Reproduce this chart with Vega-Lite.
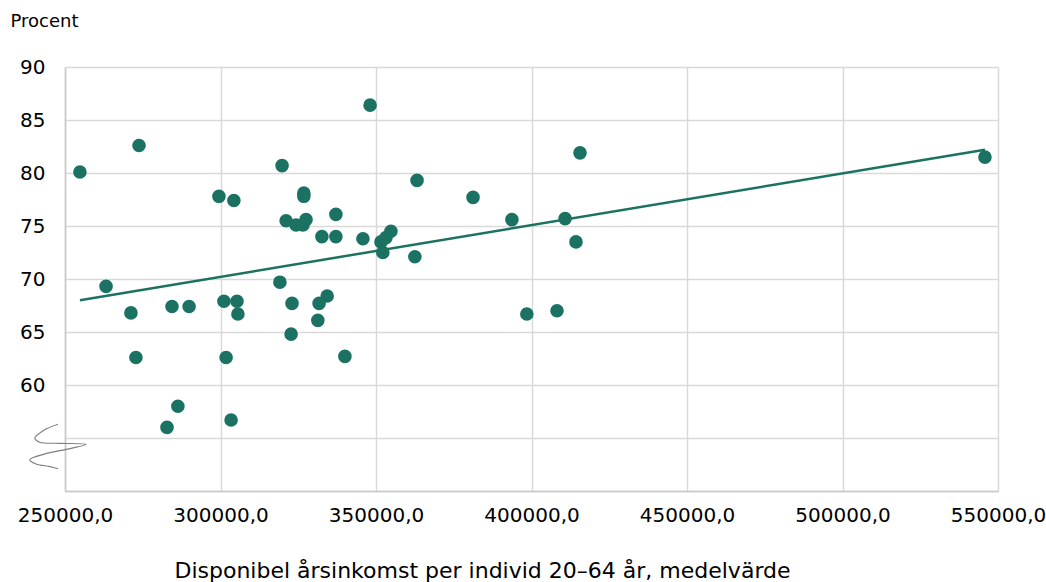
{
  "$schema": "https://vega.github.io/schema/vega-lite/v6.json",
  "width": 933,
  "height": 424,
  "autosize": "none",
  "padding": {"left": 65, "top": 67, "right": 48, "bottom": 91},
  "background": "white",
  "config": {
    "view": {"stroke": null},
    "font": "DejaVu Sans"
  },
  "datasets": {
    "points": [
      {"inkomst": 254800, "andel": 80.1},
      {"inkomst": 263200, "andel": 69.3},
      {"inkomst": 271200, "andel": 66.8},
      {"inkomst": 272800, "andel": 62.6},
      {"inkomst": 273800, "andel": 82.6},
      {"inkomst": 282800, "andel": 56.0},
      {"inkomst": 284400, "andel": 67.4},
      {"inkomst": 286300, "andel": 58.0},
      {"inkomst": 289900, "andel": 67.4},
      {"inkomst": 299500, "andel": 77.8},
      {"inkomst": 301100, "andel": 67.9},
      {"inkomst": 301800, "andel": 62.6},
      {"inkomst": 303400, "andel": 56.7},
      {"inkomst": 304300, "andel": 77.4},
      {"inkomst": 305300, "andel": 67.9},
      {"inkomst": 305600, "andel": 66.7},
      {"inkomst": 319100, "andel": 69.7},
      {"inkomst": 319800, "andel": 80.7},
      {"inkomst": 321100, "andel": 75.5},
      {"inkomst": 322700, "andel": 64.8},
      {"inkomst": 323000, "andel": 67.7},
      {"inkomst": 324300, "andel": 75.1},
      {"inkomst": 326500, "andel": 75.1},
      {"inkomst": 326800, "andel": 78.1},
      {"inkomst": 326800, "andel": 77.8},
      {"inkomst": 327500, "andel": 75.6},
      {"inkomst": 331300, "andel": 66.1},
      {"inkomst": 331700, "andel": 67.7},
      {"inkomst": 332600, "andel": 74.0},
      {"inkomst": 334300, "andel": 68.4},
      {"inkomst": 337100, "andel": 76.1},
      {"inkomst": 337100, "andel": 74.0},
      {"inkomst": 340000, "andel": 62.7},
      {"inkomst": 345800, "andel": 73.8},
      {"inkomst": 348100, "andel": 86.4},
      {"inkomst": 351600, "andel": 73.5},
      {"inkomst": 352200, "andel": 72.5},
      {"inkomst": 353200, "andel": 73.9},
      {"inkomst": 354800, "andel": 74.5},
      {"inkomst": 362500, "andel": 72.1},
      {"inkomst": 363200, "andel": 79.3},
      {"inkomst": 381200, "andel": 77.7},
      {"inkomst": 393700, "andel": 75.6},
      {"inkomst": 398500, "andel": 66.7},
      {"inkomst": 408200, "andel": 67.0},
      {"inkomst": 410800, "andel": 75.7},
      {"inkomst": 414300, "andel": 73.5},
      {"inkomst": 415600, "andel": 81.9},
      {"inkomst": 545800, "andel": 81.5}
    ],
    "trend": [
      {"inkomst": 254800, "andel": 68.0},
      {"inkomst": 545800, "andel": 82.2}
    ],
    "brytning": [
      {"ordning": 1, "inkomst": 247750, "andel": 56.3},
      {"ordning": 2, "inkomst": 243300, "andel": 55.75},
      {"ordning": 3, "inkomst": 240300, "andel": 55.0},
      {"ordning": 4, "inkomst": 241900, "andel": 54.6},
      {"ordning": 5, "inkomst": 248400, "andel": 54.5},
      {"ordning": 6, "inkomst": 256800, "andel": 54.4},
      {"ordning": 7, "inkomst": 251600, "andel": 54.0},
      {"ordning": 8, "inkomst": 243600, "andel": 53.5},
      {"ordning": 9, "inkomst": 238700, "andel": 52.95},
      {"ordning": 10, "inkomst": 240700, "andel": 52.55},
      {"ordning": 11, "inkomst": 245200, "andel": 52.3},
      {"ordning": 12, "inkomst": 247750, "andel": 52.1}
    ]
  },
  "layer": [
    {
      "data": {"name": "points"},
      "mark": {"type": "point", "filled": true, "size": 185, "opacity": 1, "color": "#1b7262", "shape": "circle"},
      "encoding": {
        "x": {
          "field": "inkomst", "type": "quantitative",
          "scale": {"domain": [250000, 550000], "nice": false, "zero": false},
          "axis": {
            "values": [250000, 300000, 350000, 400000, 450000, 500000, 550000],
            "labelExpr": "replace(format(datum.value, '.1f'), '.', ',')",
            "labelFontSize": 20,
            "labelColor": "#000000",
            "labelPadding": 14,
            "labelFlush": false,
            "labelOverlap": false,
            "ticks": false,
            "domainColor": "#c8c8c8",
            "domainWidth": 1.5,
            "grid": true,
            "gridColor": "#d9d9d9",
            "gridWidth": 1.5,
            "title": "Disponibel årsinkomst per individ 20–64 år, medelvärde",
            "titleFontSize": 22,
            "titleFontWeight": "normal",
            "titleColor": "#000000",
            "titleAnchor": "middle",
            "titleX": 417,
            "titleY": 86,
            "titleBaseline": "alphabetic"
          }
        },
        "y": {
          "field": "andel", "type": "quantitative",
          "scale": {"domain": [50, 90], "nice": false, "zero": false},
          "axis": {
            "values": [50, 55, 60, 65, 70, 75, 80, 85, 90],
            "labelExpr": "datum.value < 60 ? '' : datum.label",
            "labelFontSize": 20,
            "labelColor": "#000000",
            "labelPadding": 20,
            "labelFlush": false,
            "ticks": false,
            "domainColor": "#c8c8c8",
            "domainWidth": 1.5,
            "grid": true,
            "gridColor": "#d9d9d9",
            "gridWidth": 1.5,
            "title": "Procent",
            "titleFontSize": 18,
            "titleFontWeight": "normal",
            "titleColor": "#000000",
            "titleAngle": 0,
            "titleAlign": "left",
            "titleAnchor": "start",
            "titleBaseline": "alphabetic",
            "titleX": -55,
            "titleY": -41
          }
        }
      }
    },
    {
      "data": {"name": "trend"},
      "mark": {"type": "line", "color": "#1b7262", "strokeWidth": 2.5},
      "encoding": {
        "x": {"field": "inkomst", "type": "quantitative"},
        "y": {"field": "andel", "type": "quantitative"}
      }
    },
    {
      "data": {"name": "brytning"},
      "mark": {"type": "line", "color": "#7f7f7f", "strokeWidth": 1.2, "clip": false, "interpolate": "catmull-rom"},
      "encoding": {
        "x": {"field": "inkomst", "type": "quantitative"},
        "y": {"field": "andel", "type": "quantitative"},
        "order": {"field": "ordning", "type": "quantitative"}
      }
    }
  ]
}
